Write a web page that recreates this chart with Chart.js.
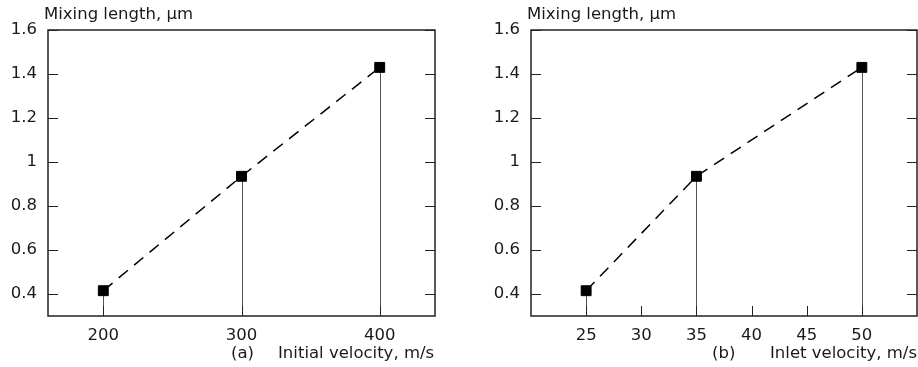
<!DOCTYPE html>
<html lang="en">
<head>
    <meta charset="UTF-8">
    <title>Mixing length</title>
    <script src="https://cdn.jsdelivr.net/npm/chart.js"></script>
    <style>
        body {
            margin: 0;
            width: 918px;
            height: 367px;
            overflow: hidden;
            background: #fff;
            font-family: "DejaVu Sans", sans-serif;
            position: relative;
        }
        canvas { position: absolute; top: 0; }
        .lbl {
            position: absolute;
            font-size: 16.5px;
            line-height: 18px;
            color: #1a1a1a;
            white-space: nowrap;
        }
    </style>
</head>
<body>
    <canvas id="chartA" width="460" height="367" style="left:0"></canvas>
    <!-- wider than the window on purpose: the right frame sits on the page edge -->
    <canvas id="chartB" width="442" height="367" style="left:483px"></canvas>

    <div class="lbl" style="left:44px; top:5px">Mixing length, µm</div>
    <div class="lbl" style="left:231px; top:344px">(a)</div>
    <div class="lbl" style="left:278px; top:344px">Initial velocity, m/s</div>
    <div class="lbl" style="left:527px; top:5px">Mixing length, µm</div>
    <div class="lbl" style="left:712px; top:344px">(b)</div>
    <div class="lbl" style="left:770px; top:344px">Inlet velocity, m/s</div>

    <script>
        // data
        const velocityA = [200, 300, 400];
        const lengthA = [0.415, 0.935, 1.43];
        const velocityB = [25, 35, 50];
        const lengthB = [0.415, 0.935, 1.43];

        const xTicksA = [200, 300, 400];
        const xTicksB = [25, 30, 35, 40, 45, 50];
        const yTicks = [0.4, 0.6, 0.8, 1.0, 1.2, 1.4, 1.6];

        Chart.defaults.font.family = '"DejaVu Sans", sans-serif';
        Chart.defaults.font.size = 16.5;
        Chart.defaults.color = '#1a1a1a';

        // frame, inward tick marks and drop lines (gnuplot look)
        const framePlugin = {
            id: 'frame',
            beforeDatasetsDraw(chart) {
                const ctx = chart.ctx;
                const a = chart.chartArea;
                const meta = chart.getDatasetMeta(0);
                ctx.save();
                ctx.strokeStyle = '#555';
                ctx.lineWidth = 1;
                meta.data.forEach(pt => {
                    const x = Math.round(pt.x) + 0.5;
                    ctx.beginPath();
                    ctx.moveTo(x, pt.y);
                    ctx.lineTo(x, a.bottom);
                    ctx.stroke();
                });
                ctx.restore();
            },
            afterDraw(chart) {
                const ctx = chart.ctx;
                const a = chart.chartArea;
                const len = 10;
                ctx.save();
                ctx.strokeStyle = '#222';
                ctx.lineWidth = 1.5;
                ctx.strokeRect(a.left, a.top, a.right - a.left, a.bottom - a.top);
                ctx.lineWidth = 1;
                ctx.beginPath();
                chart.scales.y.ticks.forEach(t => {
                    const y = Math.round(chart.scales.y.getPixelForValue(t.value)) + 0.5;
                    ctx.moveTo(a.left, y); ctx.lineTo(a.left + len, y);
                    ctx.moveTo(a.right, y); ctx.lineTo(a.right - len, y);
                });
                chart.scales.x.ticks.forEach(t => {
                    const x = Math.round(chart.scales.x.getPixelForValue(t.value)) + 0.5;
                    ctx.moveTo(x, a.bottom); ctx.lineTo(x, a.bottom - len);
                });
                ctx.stroke();
                ctx.restore();
            }
        };

        function makeChart(id, xs, ys, xMin, xMax, xTicks, rightPad) {
            return new Chart(document.getElementById(id), {
                type: 'line',
                data: {
                    datasets: [{
                        data: xs.map((x, i) => ({ x: x, y: ys[i] })),
                        borderColor: '#000',
                        borderWidth: 1.5,
                        borderDash: [12, 8],
                        pointStyle: 'rect',
                        pointRadius: 7,
                        pointBackgroundColor: '#000',
                        pointBorderColor: '#000',
                        pointBorderWidth: 1,
                        fill: false,
                        tension: 0
                    }]
                },
                options: {
                    responsive: false,
                    animation: false,
                    clip: false,
                    layout: { padding: { top: 30, right: rightPad, bottom: 0, left: 0 } },
                    plugins: { legend: { display: false }, tooltip: { enabled: false } },
                    scales: {
                        x: {
                            type: 'linear',
                            min: xMin,
                            max: xMax,
                            afterBuildTicks: s => { s.ticks = xTicks.map(v => ({ value: v })); },
                            afterFit: s => { s.height = 51; s.paddingLeft = 0; s.paddingRight = 0; },
                            grid: { display: false, drawTicks: false, tickLength: 0 },
                            border: { display: false },
                            ticks: { padding: 10, maxRotation: 0, callback: v => String(v) }
                        },
                        y: {
                            type: 'linear',
                            min: 0.3,
                            max: 1.6,
                            afterBuildTicks: s => { s.ticks = yTicks.map(v => ({ value: v })); },
                            afterFit: s => { s.width = 48; s.paddingTop = 0; s.paddingBottom = 0; },
                            grid: { display: false, drawTicks: false, tickLength: 0 },
                            border: { display: false },
                            ticks: { padding: 11, callback: v => String(+v.toFixed(1)) }
                        }
                    }
                },
                plugins: [framePlugin]
            });
        }

        makeChart('chartA', velocityA, lengthA, 160, 440, xTicksA, 25);
        // point overflow keeps ~8px free on the right, so width 442 puts the frame at 917
        makeChart('chartB', velocityB, lengthB, 20, 55, xTicksB, 1);
    </script>
</body>
</html>
